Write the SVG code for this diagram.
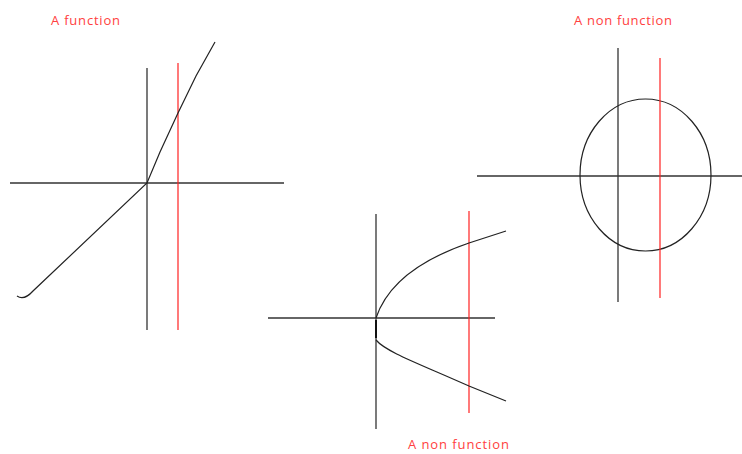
<svg xmlns="http://www.w3.org/2000/svg" width="742" height="454" viewBox="0 0 742 454">
<style>
.ax{stroke:#333;stroke-width:1.3;fill:none}
.cv{stroke:#222;stroke-width:1.2;fill:none}
.rd{stroke:#ff2020;stroke-width:1.2;fill:none}
.lb{fill:#ff4040;font-family:"Open Sans","Liberation Sans",sans-serif;font-size:13px}
</style>
<rect width="742" height="454" fill="#fff"/>
<g id="graph1">
<text class="lb" x="51" y="25" textLength="69">A function</text>
<line class="ax" x1="10" y1="183" x2="284" y2="183"/>
<line class="ax" x1="147" y1="68" x2="147" y2="330"/>
<line class="rd" x1="178" y1="63" x2="178" y2="330"/>
<path class="cv" d="M215,42 L196,76 L178,113 L160,152 L147,183 L33,291 Q24,301 17,296"/>
</g>
<g id="graph2">
<line class="ax" x1="268" y1="318" x2="495" y2="318"/>
<line class="ax" x1="376" y1="214" x2="376" y2="429"/>
<line class="rd" x1="469" y1="211" x2="469" y2="413"/>
<path class="cv" d="M376,318 C388,282 425,258 469,243 L506,231"/>
<path class="cv" d="M376,340 C386,352 420,364 469,386 L506,401"/>
<line stroke="#111" stroke-width="2" x1="376" y1="320" x2="376" y2="338"/>
<text class="lb" x="408" y="449" textLength="101">A non  function</text>
</g>
<g id="graph3">
<text class="lb" x="574" y="25" textLength="98">A non function</text>
<line class="ax" x1="477" y1="176" x2="742" y2="176"/>
<line class="ax" x1="618" y1="48" x2="618" y2="302"/>
<ellipse class="cv" cx="645.5" cy="175" rx="65.5" ry="76"/>
<line class="rd" x1="660" y1="58" x2="660" y2="298"/>
</g>
</svg>
